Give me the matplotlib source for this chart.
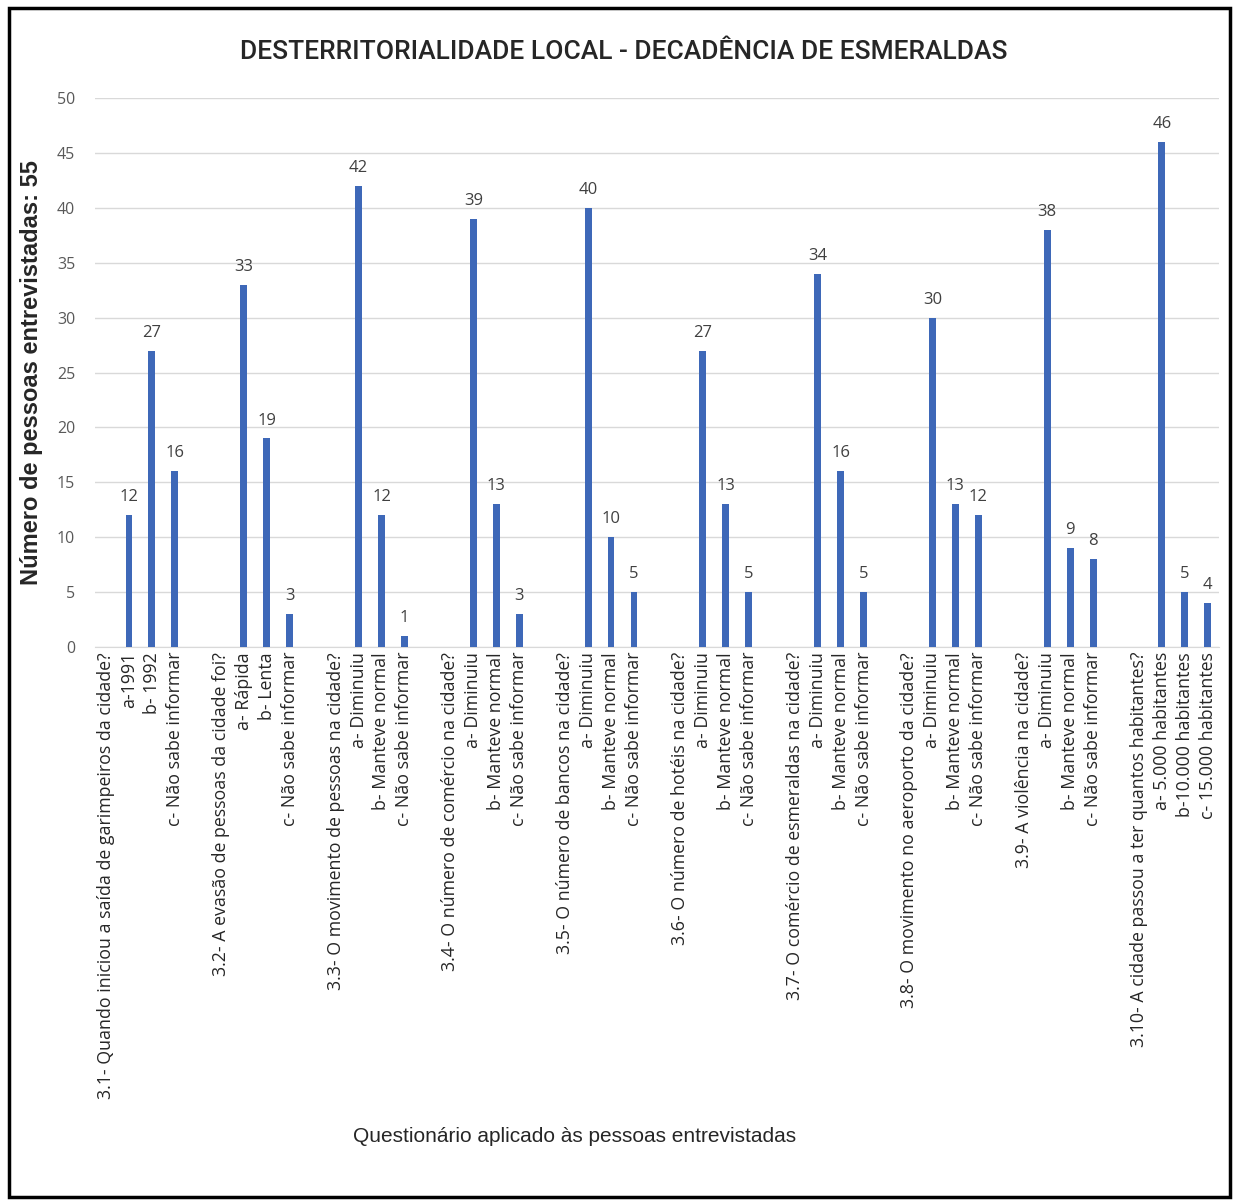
import numpy as np
import matplotlib
matplotlib.use('Agg')
import matplotlib.pyplot as plt
from matplotlib.patches import Rectangle

plt.rcParams['font.family'] = ['Open Sans', 'DejaVu Sans']

# data
questions = ['3.1- Quando iniciou a saída de garimpeiros da cidade?',
             '3.2- A evasão de pessoas da cidade foi?',
             '3.3- O movimento de pessoas na cidade?',
             '3.4- O número de comércio na cidade?',
             '3.5- O número de bancos na cidade?',
             '3.6- O número de hotéis na cidade?',
             '3.7- O comércio de esmeraldas na cidade?',
             '3.8- O movimento no aeroporto da cidade?',
             '3.9- A violência na cidade?',
             '3.10- A cidade passou a ter quantos habitantes?']
opts_std = ['a- Diminuiu', 'b- Manteve normal', 'c- Não sabe informar']
options = [['a-1991', 'b- 1992', 'c- Não sabe informar'],
           ['a- Rápida', 'b- Lenta', 'c- Não sabe informar'],
           opts_std, opts_std, opts_std, opts_std, opts_std, opts_std, opts_std,
           ['a- 5.000 habitantes', 'b-10.000 habitantes', 'c- 15.000 habitantes']]
values = [[12, 27, 16], [33, 19, 3], [42, 12, 1], [39, 13, 3], [40, 10, 5],
          [27, 13, 5], [34, 16, 5], [30, 13, 12], [38, 9, 8], [46, 5, 4]]

# build slots: question label, three options, blank gap
labels, xs_bar, ys_bar = [], [], []
for q, opts, vals in zip(questions, options, values):
    if labels:
        labels.append('')
    labels.append(q)
    for o, v in zip(opts, vals):
        xs_bar.append(len(labels))
        ys_bar.append(v)
        labels.append(o)

fig = plt.figure(figsize=(12.36, 12.04), dpi=100)
ax = fig.add_axes([0.0765, 0.4626, 0.91, 0.456])

bars = ax.bar(xs_bar, ys_bar, width=0.3, color='#3e68b8', zorder=3)
for x, y in zip(xs_bar, ys_bar):
    ax.text(x, y + 0.9, str(y), ha='center', va='bottom', fontsize=12, color='#404040')

ax.set_xlim(-0.5, len(labels) - 0.5)
ax.set_ylim(0, 50)
ax.set_yticks(np.arange(0, 51, 5))
ax.set_xticks(range(len(labels)))
ax.set_xticklabels(labels, rotation=90, fontsize=12.8, color='#262626')
ax.tick_params(axis='both', length=0)
ax.tick_params(axis='y', labelsize=11.5, labelcolor='#595959', pad=14)
ax.grid(axis='y', color='#d9d9d9', linewidth=1, zorder=0)
for s in ['top', 'right', 'left']:
    ax.spines[s].set_visible(False)
ax.spines['bottom'].set_color('#d9d9d9')

ax.set_ylabel('Número de pessoas entrevistadas: 55', fontsize=17, fontweight='bold',
              family=['Liberation Sans', 'DejaVu Sans'], color='#262626')
ax.yaxis.set_label_coords(-0.046, 0.5)

fig.text(0.505, 0.957, 'DESTERRITORIALIDADE LOCAL - DECADÊNCIA DE ESMERALDAS',
         ha='center', va='center', fontsize=19, fontweight='medium',
         family=['Roboto', 'DejaVu Sans'], color='#262626')
fig.text(0.465, 0.056, 'Questionário aplicado às pessoas entrevistadas',
         ha='center', va='center', fontsize=15,
         family=['Liberation Sans', 'DejaVu Sans'], color='#262626')

fig.patches.append(Rectangle((0.007, 0.006), 0.988, 0.987, transform=fig.transFigure,
                             fill=False, edgecolor='black', linewidth=2.5))

fig.savefig('out.png', dpi=100)
